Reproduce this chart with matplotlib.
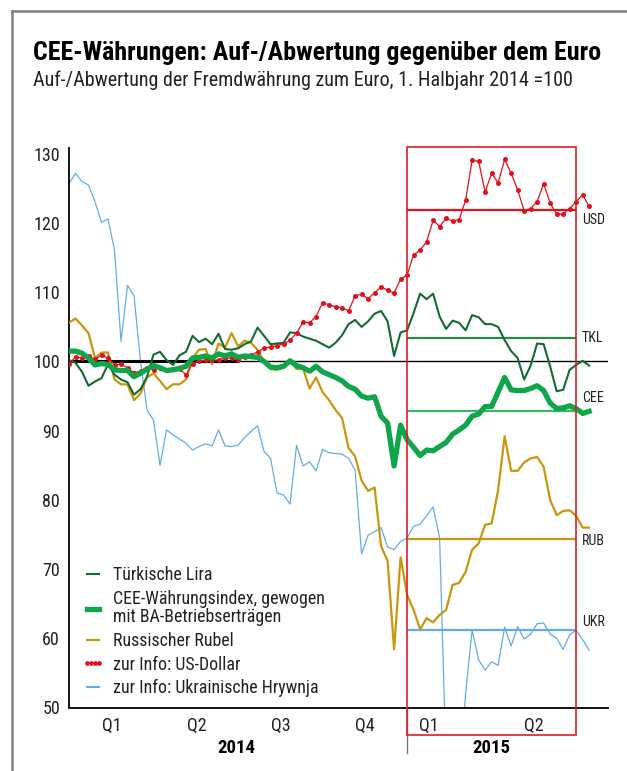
import matplotlib

matplotlib.use("Agg")
import matplotlib.pyplot as plt
from matplotlib import font_manager as fm
from matplotlib.lines import Line2D
from matplotlib.patches import Rectangle

# weekly index: week 0 = start of 2014, week 52 = start of 2015
weeks = list(range(81))

tkl = [100.2, 99.8, 98.5, 96.5, 97.1, 97.6, 99.6, 98.1, 97.4, 97.0,
       95.2, 96.0, 97.8, 101.0, 101.4, 100.2, 99.5, 100.9, 101.4, 103.7,
       102.8, 103.3, 102.5, 104.0, 101.8, 101.7, 101.9, 102.5, 102.9, 104.9,
       103.7, 102.5, 102.6, 102.7, 104.2, 104.1, 103.6, 103.3, 103.0, 102.5,
       102.0, 102.7, 103.8, 105.4, 106.0, 105.0, 105.8, 106.9, 107.3, 105.8,
       100.8, 104.2, 104.5, 107.0, 109.8, 109.0, 109.8, 106.5, 104.7, 105.9,
       105.6, 104.5, 106.7, 106.4, 105.4, 105.4, 105.0, 103.1, 101.5, 100.5,
       97.4, 99.4, 102.6, 102.5, 99.3, 95.7, 95.9, 98.8, 99.5, 100.1,
       99.4]

cee = [101.5, 101.5, 101.2, 100.5, 99.5, 99.7, 99.6, 98.8, 98.7, 98.7,
       97.8, 98.3, 98.9, 99.4, 99.1, 98.7, 98.8, 99.0, 99.3, 100.5,
       100.6, 100.8, 100.5, 101.1, 100.8, 101.1, 100.6, 100.8, 100.7, 100.6,
       100.0, 99.2, 99.1, 99.3, 100.1, 99.4, 99.1, 98.6, 99.3, 98.5,
       98.1, 97.7, 97.2, 96.4, 96.0, 95.0, 94.7, 94.9, 92.1, 91.1,
       84.9, 90.8, 88.7, 87.6, 86.4, 87.2, 87.1, 87.7, 88.3, 89.5,
       90.1, 90.8, 92.1, 92.4, 93.5, 93.5, 95.6, 97.7, 95.9, 95.8,
       95.8, 96.1, 96.5, 95.8, 94.0, 93.2, 93.3, 93.6, 93.2, 92.5,
       92.8]

rub = [105.6, 106.2, 105.2, 104.1, 100.5, 101.3, 101.3, 97.4, 96.7, 96.7,
       94.4, 95.4, 97.7, 98.3, 97.2, 96.0, 96.7, 96.7, 97.4, 100.5,
       101.7, 101.8, 99.6, 102.6, 102.0, 104.1, 102.2, 103.0, 102.7, 101.7,
       100.0, 98.9, 98.8, 99.1, 100.2, 98.9, 99.0, 96.1, 97.7, 95.6,
       94.4, 93.0, 91.8, 87.5, 86.3, 82.8, 81.3, 81.8, 73.3, 71.2,
       58.4, 71.7, 66.3, 64.1, 61.3, 62.9, 62.3, 63.4, 64.1, 67.7,
       68.0, 69.6, 72.8, 73.7, 76.4, 76.6, 81.4, 89.2, 84.2, 84.2,
       85.4, 86.0, 86.2, 84.8, 80.0, 77.8, 78.4, 78.5, 77.7, 76.0,
       76.0]

usd = [99.6, 100.7, 100.5, 100.8, 100.3, 100.9, 100.5, 99.5, 99.6, 99.1,
       98.4, 98.6, 99.1, 98.8, 99.1, 98.8, 98.9, 98.9, 98.1, 99.7,
       100.1, 100.2, 100.2, 100.2, 100.5, 100.5, 100.2, 100.7, 100.9, 101.4,
       101.9, 102.1, 102.3, 102.5, 103.1, 104.1, 105.7, 105.6, 106.5, 108.5,
       108.2, 107.9, 107.8, 107.3, 109.5, 109.7, 109.1, 109.9, 110.8, 110.3,
       109.9, 111.9, 112.5, 115.4, 116.1, 117.3, 120.4, 119.5, 120.7, 120.3,
       120.5, 123.3, 129.1, 128.9, 124.5, 127.2, 125.8, 129.2, 127.2, 124.8,
       121.8, 122.1, 123.1, 125.7, 122.9, 121.3, 121.3, 122.1, 123.1, 124.1,
       122.4]

ukr = [125.7, 127.2, 126.0, 125.5, 123.1, 120.1, 120.6, 116.1, 102.9, 111.0,
       109.5, 100.0, 93.0, 91.5, 85.0, 90.1, 89.4, 88.8, 88.2, 87.2,
       87.7, 88.1, 87.8, 90.1, 87.8, 87.7, 87.9, 89.0, 89.9, 90.7,
       87.0, 86.0, 81.0, 80.7, 79.4, 87.9, 84.9, 85.5, 84.2, 87.3,
       86.8, 86.7, 86.6, 86.0, 84.3, 72.2, 74.9, 75.4, 76.0, 73.2,
       72.8, 74.0, 74.5, 76.2, 76.5, 77.7, 79.0, 74.5, 42.0, 38.0,
       40.0, 52.0, 61.2, 56.9, 55.4, 56.6, 56.1, 61.6, 58.9, 61.7,
       59.9, 60.6, 62.1, 62.2, 60.6, 60.0, 58.4, 60.5, 61.2, 59.8,
       58.3]

# averages 1st half 2015
avg_codes = ["USD", "TKL", "CEE", "RUB", "UKR"]
avg_values = [121.9, 103.4, 92.85, 74.35, 61.2]
avg_label_y = [120.5, 103.4, 94.7, 74.0, 62.4]

quarter_labels = ["Q1", "Q2", "Q3", "Q4", "Q1", "Q2"]
quarter_pos = [6.6, 19.7, 32.6, 45.5, 55.4, 71.5]
years = ["2014", "2015"]
year_pos = [25.8, 64.9]

legend_labels = [
    "Türkische Lira",
    "CEE-Währungsindex, gewogen\nmit BA-Betriebserträgen",
    "Russischer Rubel",
    "zur Info: US-Dollar",
    "zur Info: Ukrainische Hrywnja",
]

C_TKL = "#146b32"
C_CEE = "#0fa54a"
C_RUB = "#c8960c"
C_USD = "#e3101c"
C_UKR = "#62ade6"
C_BOX = "#dd1c24"
TXT = "#222222"


def pick_narrow_font():
    for fam in ["Liberation Sans Narrow", "Roboto Condensed",
                "Open Sans Condensed", "Noto Sans Condensed"]:
        try:
            fm.findfont(fm.FontProperties(family=fam), fallback_to_default=False)
            return fam, "normal"
        except ValueError:
            pass
    path = fm.findfont(fm.FontProperties(family="DejaVu Sans", stretch="condensed"))
    if "Condensed" in path:
        return "DejaVu Sans", "condensed"
    return "Liberation Sans", "normal"


FONT, STRETCH = pick_narrow_font()
plt.rcParams["font.family"] = [FONT, "DejaVu Sans"]
plt.rcParams["font.stretch"] = STRETCH

W, H = 627, 771
fig = plt.figure(figsize=(W / 100, H / 100), dpi=100)
renderer = fig.canvas.get_renderer()


def fit_size(text, size, width_px, **kw):
    t = fig.text(0, 0, text, fontsize=size, **kw)
    w = t.get_window_extent(renderer).width
    t.remove()
    return size * width_px / w


ax = fig.add_axes([69 / W, 1 - 707.5 / H, (608 - 69) / W, (707.5 - 148) / H])

ax.plot(weeks, ukr, color=C_UKR, lw=0.9, zorder=1)
ax.axhline(100, color="black", lw=1.0, zorder=2)
ax.plot([0, 26], [100, 100], color="black", lw=2.2, zorder=2,
        solid_capstyle="butt")
ax.plot(weeks, rub, color=C_RUB, lw=1.6, zorder=3)
ax.plot(weeks, tkl, color=C_TKL, lw=1.5, zorder=4)
ax.plot(weeks, usd, color=C_USD, lw=0.9, marker="o", ms=3.6,
        markeredgewidth=0, zorder=5)
ax.plot(weeks, cee, color=C_CEE, lw=3.8, zorder=6, solid_joinstyle="round")

small = min(12, fit_size("USD", 12, 23))
avg_colors = [C_USD, "#2a8a4a", "#3cb46a", C_RUB, C_UKR]
for code, val, ly, col in zip(avg_codes, avg_values, avg_label_y, avg_colors):
    ax.plot([52, 78], [val, val], color=col, lw=1.6, zorder=2.5,
            solid_capstyle="butt")
    ax.text(78.9, ly, code, color=TXT, fontsize=small, va="center", ha="left",
            clip_on=False)

# red frame around 2015 H1, reaching below the axis
ax.add_patch(Rectangle((52, 46.0), 26, 85.0, fill=False, edgecolor=C_BOX,
                       lw=1.2, clip_on=False, zorder=7))
ax.plot([52, 52], [50, 43.4], color="#777777", lw=1.0, clip_on=False,
        zorder=6)

ax.set_xlim(0, 82.9)
ax.set_ylim(50, 130.85)
ax.set_yticks(range(50, 131, 10))
ax.set_xticks([])
ax.tick_params(axis="y", length=0, pad=6.5, labelsize=13, labelcolor=TXT)
for s in ["top", "right"]:
    ax.spines[s].set_visible(False)
for s in ["left", "bottom"]:
    ax.spines[s].set_linewidth(1.3)
    ax.spines[s].set_color("black")

for lab, xq in zip(quarter_labels, quarter_pos):
    ax.text(xq, 47.4, lab, ha="center", va="center", fontsize=13, color=TXT,
            clip_on=False)
for lab, xy in zip(years, year_pos):
    ax.text(xy, 44.1, lab, ha="center", va="center", fontsize=13.5,
            fontweight="bold", color="black", clip_on=False)

handles = [
    Line2D([], [], color=C_TKL, lw=1.5),
    Line2D([], [], color=C_CEE, lw=3.8),
    Line2D([], [], color=C_RUB, lw=1.6),
    Line2D([], [], color=C_USD, lw=1.2, ls=":", marker="o", ms=3.4,
           markeredgewidth=0),
    Line2D([], [], color=C_UKR, lw=1.5),
]
leg_size = min(13.5, fit_size(legend_labels[-1], 13, 204))
leg = ax.legend(handles, legend_labels, loc="lower left",
                bbox_to_anchor=(0.0236, 0.018), frameon=False,
                prop={"size": leg_size},
                handlelength=23 / leg_size * 0.72, handletextpad=0.45,
                labelspacing=0.32, borderpad=0, borderaxespad=0, numpoints=4)
for t in leg.get_texts():
    t.set_color(TXT)
    t.set_linespacing(1.05)

title = "CEE-Währungen: Auf-/Abwertung gegenüber dem Euro"
subtitle = "Auf-/Abwertung der Fremdwährung zum Euro, 1. Halbjahr 2014 =100"
fig.text(33 / W, 1 - 60 / H, title,
         fontsize=fit_size(title, 18, 569, fontweight="bold"),
         fontweight="bold", color="black", va="baseline")
fig.text(33 / W, 1 - 86 / H, subtitle,
         fontsize=fit_size(subtitle, 13, 538),
         color=TXT, va="baseline")

# grey frame (top and left edge)
fig.add_artist(Line2D([12 / W, 1], [1 - 11 / H, 1 - 11 / H], color="#808080",
                      lw=1.8, transform=fig.transFigure))
fig.add_artist(Line2D([12 / W, 12 / W], [0, 1 - 11 / H], color="#808080",
                      lw=1.8, transform=fig.transFigure))

fig.savefig("out.png", dpi=100)
